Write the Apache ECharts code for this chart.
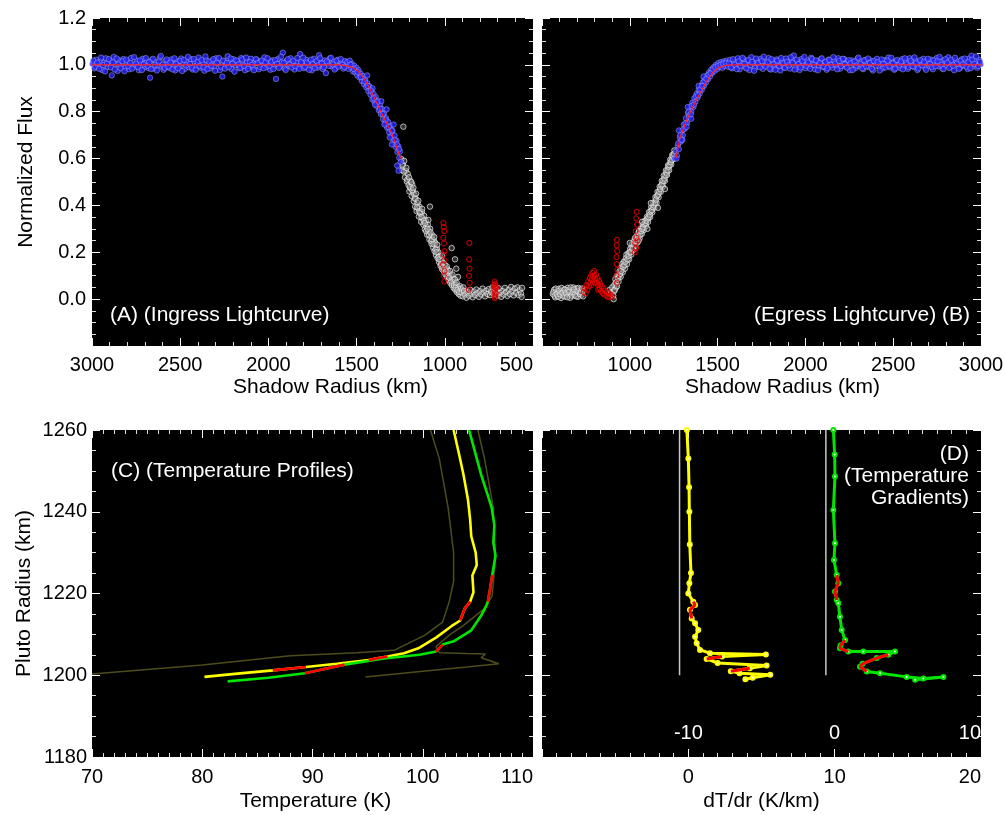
<!DOCTYPE html>
<html>
<head>
<meta charset="utf-8">
<script src="https://cdn.jsdelivr.net/npm/echarts@6/dist/echarts.min.js"></script>
<style>
  html, body { margin: 0; padding: 0; background: #fff; }
  #chart { width: 1005px; height: 815px; }
</style>
</head>
<body>
<div id="chart"></div>
<script>
// ---- axis ticks -------------------------------------------------------
const shadowTicks = [500, 1000, 1500, 2000, 2500, 3000];          // km
const fluxTicks = [-0.2, 0.0, 0.2, 0.4, 0.6, 0.8, 1.0, 1.2];
const tempTicks = [70, 80, 90, 100, 110];                          // K
const plutoTicks = [1180, 1200, 1220, 1240, 1260];                 // km
const gradTicks = [-10, 0, 10, 20];                                // K/km (yellow)
const gradInnerTicks = [-20, -10, 0, 10];                          // K/km (green)

// ---- (A) ingress light curve: [shadow radius km, normalized flux] ----
const ingressBlue = [
  [2998,1.004],[2987,0.985],[2976,1.022],[2965,0.996],[2954,1.013],[2943,0.978],[2932,1.009],[2921,1.028],[2910,0.991],[2899,1.016],
  [2888,0.955],[2877,1.034],[2866,1.003],[2855,0.974],[2844,1.019],[2833,0.997],[2822,1.025],[2811,0.988],[2800,1.012],[2789,0.981],
  [2778,1.029],[2767,1.001],[2756,0.993],[2745,1.018],[2734,0.977],[2723,1.008],[2712,1.026],[2701,0.990],[2690,1.014],[2679,0.986],
  [2671,0.945],[2660,1.021],[2649,0.984],[2638,1.011],[2627,0.998],[2616,1.030],[2605,0.992],[2594,0.979],[2583,1.017],[2572,1.004],
  [2561,0.987],[2550,1.023],[2539,1.000],[2528,0.976],[2517,1.015],[2506,0.994],[2495,1.027],[2484,1.006],[2473,0.983],[2462,1.011],
  [2451,0.990],[2440,1.024],[2429,0.980],[2418,1.013],[2407,0.997],[2396,1.031],[2385,0.988],[2374,1.009],[2363,0.975],[2352,1.020],
  [2341,1.002],[2330,0.985],[2319,1.018],[2308,0.993],[2297,1.028],[2286,1.005],[2275,0.978],[2261,0.950],[2252,1.016],[2241,0.996],
  [2231,1.037],[2220,1.010],[2209,0.982],[2198,1.024],[2187,0.999],[2176,1.015],[2165,0.986],[2154,1.029],[2143,1.003],[2132,0.977],
  [2121,1.012],[2110,0.994],[2099,1.026],[2088,0.989],[2077,1.008],[2066,1.021],[2055,0.981],[2044,1.014],[2033,0.998],[2022,1.032],
  [2011,0.990],[2000,1.006],[1989,0.979],[1978,1.019],[1967,1.001],[1957,0.940],[1946,1.025],[1935,0.992],[1924,1.011],[1918,1.052],
  [1907,0.984],[1896,1.017],[1885,0.996],[1874,1.028],[1863,1.004],[1852,0.980],[1841,1.013],[1830,0.991],[1820,1.046],[1809,1.007],
  [1798,0.986],[1787,1.022],[1776,0.999],[1765,1.014],[1754,0.977],[1743,1.026],[1732,1.003],[1721,0.988],[1713,1.041],[1702,1.010],
  [1691,0.982],[1680,1.019],[1674,0.965],[1663,1.005],[1652,1.027],[1641,0.993],[1630,1.012],[1619,0.985],[1608,1.021],[1597,0.998],
  [1586,1.009],[1575,0.984],[1566,1.016],[1559,0.996],
  [1552,1.012],[1546,0.983],[1539,1.018],[1533,0.991],[1527,1.004],[1520,0.972],[1514,0.996],[1508,0.968],[1501,0.987],[1496,0.955],
  [1489,0.977],[1483,0.946],[1477,0.962],[1470,0.931],[1465,0.952],[1458,0.918],[1452,0.937],[1446,0.905],[1440,0.922],[1433,0.888],
  [1428,0.909],[1421,0.872],[1416,0.893],[1410,0.852],[1404,0.876],[1398,0.842],[1392,0.863],[1386,0.825],[1380,0.846],[1374,0.806],
  [1368,0.830],[1362,0.790],[1357,0.812],[1350,0.768],[1345,0.792],[1338,0.750],[1333,0.772],[1327,0.732],[1321,0.756],[1315,0.712],
  [1309,0.738],[1303,0.695],[1297,0.718],[1291,0.672],[1285,0.698],[1279,0.650],[1274,0.676],[1268,0.628],[1263,0.652],[1258,0.604],
  [1254,0.630],[1250,0.585],[1270,0.570],[1262,0.548],[1290,0.745],[1300,0.660],[1330,0.810],[1360,0.845],[1410,0.900],[1440,0.955]
];
const ingressBlueB = [
  [2993,1.018],[2982,0.992],[2970,1.009],[2959,0.983],[2948,1.031],[2937,0.999],[2926,0.972],[2915,1.006],[2904,1.024],[2893,0.989],
  [2882,1.011],[2871,0.980],[2860,1.027],[2849,1.002],[2838,0.986],[2827,1.015],[2816,0.973],[2805,1.022],[2794,0.995],[2783,1.008],
  [2772,0.984],[2761,1.033],[2750,1.005],[2739,0.991],[2728,1.019],[2717,0.978],[2706,1.002],[2695,1.029],[2684,0.996],[2675,1.012],
  [2665,0.982],[2654,1.026],[2643,0.999],[2632,0.976],[2621,1.014],[2610,1.038],[2599,1.001],[2588,0.987],[2577,1.023],[2566,0.993],
  [2555,1.010],[2544,0.981],[2533,1.028],[2522,1.003],[2511,0.985],[2500,1.017],[2489,0.974],[2478,1.021],[2467,0.998],[2456,1.034],
  [2445,1.004],[2434,0.988],[2423,1.025],[2412,0.979],[2401,1.012],[2390,0.995],[2379,1.020],[2368,0.990],[2357,1.036],[2346,0.982],
  [2335,1.013],[2324,0.997],[2313,1.024],[2302,0.975],[2291,1.010],[2280,1.029],[2269,0.992],[2256,1.018],[2246,0.984],[2236,1.008],
  [2225,0.990],[2214,1.027],[2203,1.005],[2192,0.971],[2181,1.019],[2170,1.001],[2159,0.988],[2148,1.023],[2137,0.996],[2126,1.031],
  [2115,0.983],[2104,1.012],[2093,1.000],[2082,0.977],[2071,1.025],[2060,1.007],[2049,0.991],[2038,1.018],[2027,0.986],[2016,1.011],
  [2005,1.028],[1994,0.995],[1983,1.013],[1972,0.982],[1962,1.020],[1951,1.004],[1940,0.987],[1929,1.035],[1913,1.008],[1902,0.978],
  [1891,1.024],[1880,1.001],[1869,0.989],[1858,1.017],[1847,0.995],[1836,1.029],[1825,0.983],[1814,1.012],[1803,1.031],[1792,0.992],
  [1781,1.009],[1770,0.979],[1759,1.022],[1748,1.003],[1737,0.987],[1726,1.016],[1716,0.998],[1707,1.028],[1696,1.006],[1685,0.990],
  [1669,1.014],[1657,0.996],[1646,1.030],[1635,1.002],[1624,0.980],[1613,1.018],[1602,0.993],[1591,1.025],[1580,1.000],[1570,0.991],
  [1535,1.000],[1515,0.982],[1495,0.970],[1475,0.948],[1455,0.930],[1437,0.910],[1420,0.890],[1402,0.858],[1385,0.840],[1367,0.812],
  [1352,0.790],[1336,0.765],[1318,0.735],[1300,0.720],[1284,0.680],[1272,0.660],[1260,0.640],[1395,0.830],[1342,0.745],[1312,0.690]
];
const ingressWhite = [
  [1235,0.736],[1246,0.598],[1238,0.575],[1242,0.550],[1230,0.590],[1226,0.520],[1221,0.548],[1215,0.502],[1210,0.535],[1205,0.486],
  [1201,0.460],[1196,0.505],[1192,0.472],[1188,0.440],[1185,0.490],[1180,0.455],[1176,0.418],[1172,0.445],[1168,0.395],[1165,0.428],
  [1160,0.376],[1155,0.410],[1151,0.388],[1147,0.352],[1143,0.394],[1138,0.365],[1134,0.330],[1130,0.372],[1126,0.345],[1121,0.318],
  [1117,0.356],[1113,0.298],[1108,0.335],[1104,0.310],[1100,0.275],[1096,0.318],[1091,0.290],[1087,0.255],[1083,0.300],[1079,0.268],
  [1075,0.236],[1070,0.272],[1066,0.220],[1062,0.250],[1058,0.205],[1054,0.240],[1050,0.188],[1045,0.215],[1041,0.175],[1037,0.200],
  [1032,0.158],[1028,0.182],[1024,0.142],[1019,0.166],[1015,0.128],[1010,0.155],[1005,0.118],[1000,0.145],[996,0.105],[992,0.132],
  [987,0.095],[983,0.125],[978,0.082],[974,0.110],[969,0.070],[964,0.098],[960,0.060],[955,0.085],[950,0.048],[946,0.072],
  [941,0.040],[936,0.060],[931,0.030],[926,0.052],[921,0.022],[916,0.044],[911,0.015],[1084,0.395],[961,0.218],[942,0.170],
  [935,0.130],[925,0.095],
  [1240,0.570],[1232,0.545],[1218,0.560],[1212,0.510],[1203,0.520],[1198,0.478],[1190,0.500],[1183,0.465],[1178,0.475],[1170,0.430],
  [1163,0.450],[1157,0.392],[1150,0.420],[1145,0.375],[1140,0.370],[1132,0.350],[1128,0.385],[1119,0.335],[1112,0.325],[1106,0.290],
  [1098,0.300],[1093,0.338],[1089,0.275],[1081,0.285],[1077,0.248],[1072,0.255],[1064,0.235],[1060,0.265],[1052,0.212],[1047,0.200],
  [1043,0.232],[1035,0.180],[1030,0.170],[1021,0.150],[1017,0.185],[1012,0.135],[1002,0.130],[994,0.118],[989,0.140],[980,0.100],
  [976,0.092],[970,0.120],[962,0.075],[957,0.105],[948,0.060],[944,0.085],[938,0.050],[933,0.070],[928,0.040],[918,0.030],
  [913,0.055],[908,0.045],[902,0.040],[895,0.050],[888,0.025],
  [905,0.028],[898,0.012],[891,0.035],[884,0.020],[877,0.006],[870,0.030],[863,0.015],[856,0.040],[849,0.022],[842,0.008],
  [835,0.032],[828,0.018],[821,0.041],[814,0.025],[807,0.010],[800,0.034],[793,0.020],[786,0.045],[779,0.028],[772,0.012],
  [765,0.036],[758,0.022],[751,0.043],[744,0.017],[737,0.030],[730,0.050],[723,0.024],[708,0.038],[701,0.015],[694,0.046],
  [687,0.027],[680,0.010],[673,0.035],[666,0.020],[659,0.048],[652,0.030],[645,0.014],[638,0.040],[631,0.022],[624,0.052],
  [617,0.033],[610,0.016],[603,0.045],[596,0.027],[589,0.050],[582,0.018],[575,0.038],[568,0.024],[562,0.048],[565,0.010]
];
const ingressRed = [
  [1008,0.325],[1006,0.308],[1003,0.290],[1009,0.262],[1005,0.238],[1002,0.205],[1007,0.190],[1004,0.165],[1010,0.148],[1001,0.120],
  [1006,0.100],[1003,0.075],
  [861,0.240],[862,0.170],[860,0.130],[863,0.100],[859,0.070],[864,0.040],
  [718,0.075],[714,0.065],[716,0.055],[712,0.048],[719,0.040],[715,0.032],[711,0.025],[717,0.018],[713,0.010],[716,0.004],
  [720,0.060],[710,0.050]
];
const ingressFit = [
  [3000,1.0],[1600,1.0],[1560,0.997],[1520,0.988],[1490,0.972],[1462,0.945],[1430,0.905],[1405,0.867],[1375,0.820],
  [1349,0.779],[1325,0.745],[1301,0.708],[1280,0.665],[1264,0.628],[1250,0.600]
];

// ---- (B) egress light curve ---------------------------------------------
const egressBlue = [
  [1256,0.600],[1262,0.630],[1268,0.612],[1273,0.655],[1279,0.640],[1285,0.690],[1290,0.672],[1296,0.718],[1302,0.700],[1308,0.745],
  [1314,0.728],[1320,0.772],[1326,0.752],[1332,0.795],[1338,0.778],[1344,0.815],[1350,0.800],[1356,0.838],[1362,0.820],[1368,0.858],
  [1374,0.842],[1380,0.876],[1386,0.860],[1392,0.893],[1398,0.878],[1404,0.910],[1410,0.894],[1416,0.925],[1422,0.910],[1428,0.940],
  [1434,0.925],[1440,0.955],[1446,0.940],[1452,0.968],[1458,0.952],[1464,0.980],[1470,0.966],[1477,0.990],[1484,0.975],[1491,1.000],
  [1498,0.982],[1505,1.008],[1512,0.990],[1520,1.012],[1528,0.988],[1536,1.015],[1544,0.995],[1552,1.018],[1280,0.720],[1300,0.680],
  [1330,0.820],[1350,0.770],[1392,0.910],[1420,0.950],
  [1560,0.992],[1571,1.021],[1582,0.985],[1593,1.012],[1604,0.997],[1615,1.028],[1626,0.981],[1637,1.009],[1648,1.024],[1659,0.990],
  [1670,1.015],[1681,0.978],[1692,1.033],[1703,1.004],[1714,0.987],[1725,1.019],[1736,0.995],[1747,1.026],[1758,0.983],[1769,1.011],
  [1780,0.998],[1791,1.029],[1802,0.980],[1813,1.014],[1824,0.993],[1835,1.023],[1846,1.001],[1857,0.976],[1868,1.017],[1879,0.989],
  [1890,1.027],[1901,1.005],[1912,0.984],[1923,1.020],[1934,1.040],[1945,0.992],[1956,1.012],[1967,0.978],[1978,1.025],[1989,1.000],
  [2000,0.986],[2011,1.018],[2022,0.994],[2033,1.030],[2044,1.007],[2055,0.981],[2066,1.015],[2077,0.997],[2088,1.024],[2099,0.990],
  [2110,1.011],[2121,0.979],[2132,1.022],[2143,1.003],[2154,0.988],[2165,1.016],[2176,0.996],[2187,1.028],[2198,0.984],[2209,1.009],
  [2220,1.025],[2231,0.992],[2242,1.013],[2253,0.977],[2264,1.019],[2275,1.001],[2286,0.987],[2297,1.027],[2308,0.995],[2319,1.014],
  [2330,0.982],[2341,1.021],[2352,1.004],[2363,0.990],[2374,1.018],[2385,0.976],[2396,1.010],[2407,1.026],[2418,0.993],[2429,1.008],
  [2440,0.985],[2451,1.020],[2462,0.998],[2473,1.031],[2484,0.989],[2495,1.012],[2506,0.979],[2517,1.016],[2528,1.002],[2539,0.987],
  [2550,1.024],[2561,0.996],[2572,1.013],[2583,0.983],[2594,1.028],[2605,1.005],[2616,0.991],[2627,1.017],[2638,0.978],[2649,1.011],
  [2660,1.000],[2671,1.026],[2682,0.988],[2693,1.014],[2704,0.995],[2715,1.022],[2726,0.981],[2737,1.008],[2748,1.029],[2759,0.993],
  [2770,1.015],[2781,0.984],[2792,1.020],[2803,0.999],[2814,1.032],[2825,0.990],[2836,1.011],[2847,0.977],[2858,1.018],[2869,1.003],
  [2880,0.986],[2891,1.024],[2902,0.997],[2913,1.013],[2924,0.982],[2935,1.027],[2946,1.039],[2957,0.994],[2968,1.016],[2979,0.988],
  [2990,1.021],[2998,1.002]
];
const egressBlueB = [
  [1265,0.600],[1276,0.665],[1288,0.700],[1294,0.680],[1305,0.725],[1317,0.750],[1323,0.735],[1335,0.800],[1347,0.790],[1353,0.825],
  [1365,0.830],[1377,0.865],[1389,0.870],[1401,0.895],[1413,0.910],[1425,0.930],[1437,0.940],[1449,0.958],[1461,0.965],[1473,0.980],
  [1487,0.990],[1502,0.995],[1517,1.000],[1532,1.005],[1547,1.008],
  [1565,1.006],[1576,0.989],[1587,1.024],[1598,1.001],[1609,0.982],[1620,1.015],[1631,0.996],[1642,1.030],[1653,1.004],[1664,0.985],
  [1675,1.021],[1686,0.999],[1697,1.012],[1708,0.975],[1719,1.027],[1730,1.008],[1741,0.990],[1752,1.016],[1763,1.035],[1774,0.993],
  [1785,1.011],[1796,0.984],[1807,1.024],[1818,1.002],[1829,0.979],[1840,1.018],[1851,0.995],[1862,1.029],[1873,1.006],[1884,0.987],
  [1895,1.013],[1906,0.998],[1917,1.032],[1928,1.009],[1939,0.980],[1950,1.022],[1961,1.003],[1972,0.989],[1983,1.016],[1994,1.034],
  [2005,0.996],[2016,1.010],[2027,0.983],[2038,1.025],[2049,1.000],[2060,1.019],[2071,0.977],[2082,1.008],[2093,1.028],[2104,0.994],
  [2115,1.013],[2126,0.986],[2137,1.021],[2148,0.999],[2159,1.033],[2170,1.005],[2181,0.981],[2192,1.017],[2203,0.995],[2214,1.026],
  [2225,1.002],[2236,0.988],[2247,1.020],[2258,1.007],[2269,0.978],[2280,1.014],[2291,0.997],[2302,1.031],[2313,1.003],[2324,0.985],
  [2335,1.019],[2346,0.994],[2357,1.027],[2368,1.008],[2379,0.983],[2390,1.016],[2401,0.998],[2412,1.012],[2423,0.976],[2434,1.023],
  [2445,1.004],[2456,0.989],[2467,1.018],[2478,0.996],[2489,1.030],[2500,1.006],[2511,0.984],[2522,1.021],[2533,0.999],[2544,1.014],
  [2555,0.981],[2566,1.028],[2577,1.002],[2588,0.991],[2599,1.017],[2610,0.995],[2621,1.032],[2632,1.007],[2643,0.985],[2654,1.020],
  [2665,0.998],[2676,1.013],[2687,0.979],[2698,1.026],[2709,1.004],[2720,0.990],[2731,1.019],[2742,0.994],[2753,1.015],[2764,1.034],
  [2775,1.000],[2786,0.982],[2797,1.024],[2808,1.009],[2819,0.987],[2830,1.021],[2841,0.997],[2852,1.030],[2863,1.005],[2874,0.983],
  [2885,1.017],[2896,1.001],[2907,1.027],[2918,0.992],[2929,1.012],[2940,0.986],[2951,1.022],[2962,1.004],[2973,1.036],[2984,0.995],
  [2995,1.013]
];
const egressWhite = [
  [562,0.022],[569,0.040],[575,0.008],[582,0.030],[588,0.015],[595,0.044],[601,0.026],[608,0.005],[614,0.035],[621,0.018],
  [627,0.042],[634,0.012],[640,0.030],[647,0.048],[653,0.020],[660,0.006],[666,0.038],[673,0.024],[679,0.050],[686,0.015],
  [692,0.032],[699,0.045],[705,0.010],[712,0.028],[718,0.040],[725,0.018],[731,0.035],
  [565,0.030],[572,0.015],[578,0.045],[585,0.022],[592,0.010],[598,0.036],[605,0.020],[611,0.048],[618,0.028],[624,0.012],
  [630,0.040],[637,0.025],[643,0.008],[650,0.038],[656,0.032],[663,0.050],[669,0.015],[676,0.030],[682,0.042],[689,0.020],
  [695,0.012],[702,0.035],[708,0.048],[715,0.022],[721,0.030],[728,0.045],[734,0.012],
  [885,0.040],[893,0.025],[900,0.050],[906,0.015],[912,0.035],[908,0.000],
  [912,0.060],[918,0.085],[922,0.050],[930,0.100],[936,0.075],[942,0.120],[948,0.095],[954,0.139],[960,0.115],[966,0.160],
  [972,0.130],[978,0.175],[984,0.150],[990,0.195],[996,0.170],[1002,0.215],[1008,0.190],[1014,0.235],[1020,0.210],[1026,0.250],
  [1032,0.228],[1038,0.268],[1044,0.242],[1050,0.285],[1056,0.260],[1062,0.300],[1068,0.278],[1074,0.318],[1080,0.295],[1086,0.335],
  [1092,0.312],[1098,0.352],[1104,0.330],[1110,0.372],[1116,0.350],[1122,0.392],[1128,0.370],[1134,0.412],[1140,0.390],[1146,0.435],
  [1152,0.410],[1158,0.458],[1164,0.435],[1170,0.480],[1176,0.458],[1182,0.505],[1188,0.480],[1194,0.528],[1200,0.505],[1206,0.550],
  [1212,0.530],[1218,0.572],[1224,0.550],[1230,0.595],[1236,0.575],[1242,0.615],[1248,0.598],[1254,0.635],
  [914,0.040],[920,0.070],[927,0.055],[933,0.090],[939,0.100],[945,0.108],[951,0.120],[957,0.150],[963,0.138],[969,0.145],
  [975,0.160],[981,0.190],[987,0.170],[993,0.185],[999,0.200],[1005,0.200],[1011,0.220],[1017,0.215],[1023,0.236],[1029,0.260],
  [1035,0.248],[1041,0.255],[1047,0.270],[1053,0.290],[1059,0.276],[1065,0.290],[1071,0.300],[1077,0.306],[1083,0.320],[1089,0.325],
  [1095,0.335],[1101,0.345],[1107,0.350],[1113,0.360],[1119,0.375],[1125,0.380],[1131,0.392],[1137,0.400],[1143,0.410],[1149,0.425],
  [1155,0.440],[1161,0.446],[1167,0.458],[1173,0.470],[1179,0.485],[1185,0.490],[1191,0.505],[1197,0.515],[1203,0.528],[1209,0.540],
  [1215,0.550],[1221,0.565],[1227,0.572],[1233,0.585],[1239,0.595],[1245,0.610],[1251,0.620],[1160,0.390],[1120,0.410],[1070,0.330],
  [1000,0.240],[1050,0.250],[1100,0.300],[1200,0.470]
];
const egressRed = [
  [737,0.030],[742,0.045],[748,0.025],[753,0.060],[758,0.040],[763,0.075],[768,0.055],[772,0.090],[776,0.070],[780,0.100],
  [784,0.085],[788,0.112],[792,0.095],[796,0.120],[800,0.100],[804,0.085],[808,0.105],[812,0.070],[816,0.090],[820,0.060],
  [824,0.078],[828,0.045],[832,0.065],[836,0.035],[840,0.055],[845,0.025],[850,0.045],[855,0.020],[860,0.035],[865,0.015],
  [870,0.030],[875,0.010],[880,0.025],[886,0.008],[892,0.020],[898,0.012],[780,0.060],[800,0.070],[820,0.040],
  [927,0.253],[925,0.230],[928,0.205],[924,0.180],[926,0.150],[929,0.125],[923,0.100],[927,0.070],
  [1039,0.373],[1036,0.345],[1041,0.318],[1034,0.290],[1038,0.262],[1031,0.240],[1036,0.220],[1028,0.200],[1044,0.250],[1033,0.215]
];
const egressFit = [
  [1262,0.600],[1286,0.690],[1324,0.765],[1362,0.825],[1400,0.880],[1438,0.930],[1470,0.965],[1500,0.985],[1540,0.997],
  [1580,1.0],[3000,1.0]
];

// ---- (C) temperature profiles: [temperature K, Pluto radius km] ----
const tempYellow = [
  [102.8,1260],[103.3,1254],[103.7,1249],[104.1,1243],[104.3,1238],[104.4,1234],[104.8,1230],[104.9,1227],[104.5,1224.4],[104.6,1220.3],
  [104.3,1218],[103.8,1216.3],[103.4,1213.4],[102.6,1212],[101.2,1209.2],[99.6,1206.6],[98.3,1205.4],[96.8,1204.6],[96.0,1204.2],[95.1,1203.7],
  [92.2,1202.8],[89.4,1202.0],[86.4,1201.2],[83.2,1200.4],[80.2,1199.6]
];
const tempYellowRed = [[10, 12], [17, 19], [21, 22]];
const tempGreen = [
  [104.2,1260],[104.7,1255],[105.3,1249],[105.9,1244],[106.25,1241],[106.5,1236.6],[106.4,1232.5],[106.6,1229.3],[106.3,1224.5],[106.1,1221],
  [105.9,1218],[105.8,1217.2],[105.3,1214.6],[104.4,1211],[102.8,1208.3],[101.8,1207.5],[101.2,1205.8],[99.7,1205.0],[96.5,1204.1],[92.9,1202.6],
  [89.3,1200.5],[86.0,1199.4],[82.3,1198.5]
];
const tempGreenRed = [[8, 10], [15, 16], [19, 20]];
const tempEnvLow = [
  [100.7,1260],[101.5,1253],[102.3,1241],[102.8,1230],[102.8,1223],[102.4,1218],[101.8,1213],[100.2,1209.8],[97.4,1206.1],[94.0,1205.5],
  [88.0,1204.8],[85.6,1204.1],[80.0,1202.5],[70.0,1200.3]
];
const tempEnvHigh = [
  [105.0,1260],[105.6,1253],[106.4,1241],[106.6,1228.5],[106.3,1219.5],[105.6,1216.3],[103.7,1212.2],[102.4,1209.8],[101.2,1207],[101.5,1205.5],
  [104.0,1205.3],[105.7,1205.2],[105.3,1204.3],[106.9,1202.8],[104.0,1202.0],[100.0,1201.0],[94.8,1199.6]
];

// ---- (D) temperature gradients: [dT/dr K/km, Pluto radius km] ----
const gradYellow = [
  [-0.1,1260],[0.0,1253],[0.05,1246],[0.07,1240],[0.1,1232],[0.18,1225],[0.07,1222.5],[0.0,1220],[0.34,1218],[0.46,1217.2],
  [0.11,1216],[0.23,1213.9],[0.46,1212.7],[0.68,1211.1],[0.46,1209.4],[0.57,1207.8],[0.8,1206.2],[1.48,1205.4],[5.3,1205.1],[2.3,1204.6],
  [1.25,1204.0],[2.0,1203.0],[5.35,1202.4],[4.2,1201.7],[2.9,1201.0],[3.5,1200.5],[5.6,1200.1],[4.4,1199.4],[3.9,1199.0]
];
const gradYellowRed = [[8, 11], [19, 20], [23, 24]];
const gradGreen = [
  [-0.09,1260],[0.0,1254],[0.02,1248.6],[-0.09,1240.4],[0.02,1232.3],[-0.05,1228.2],[0.14,1224.5],[0.25,1222.5],[0.02,1220.5],[0.14,1218.4],
  [0.25,1217.6],[0.36,1214.3],[0.48,1211.1],[0.71,1208.6],[0.4,1207.3],[0.36,1206.6],[0.93,1205.8],[1.96,1205.8],[4.12,1205.8],[3.67,1205.0],
  [2.87,1204.2],[1.9,1202.8],[1.73,1202.1],[2.19,1200.9],[3.1,1200.5],[4.92,1199.6],[6.06,1199.2],[7.43,1199.6],[5.5,1198.9]
];
const gradGreenRed = [[6, 9], [13, 16], [19, 23]];
const adiabatLapse = [[-0.6, 1200], [-0.6, 1260]];   // dry adiabatic reference

// ---- styling -------------------------------------------------------------
const FONT = '"Liberation Sans", Arial, Helvetica, sans-serif';
const grids = [
  { left: 92,  top: 18,  width: 441, height: 328 },
  { left: 542, top: 18,  width: 439, height: 328 },
  { left: 92,  top: 430, width: 441, height: 327 },
  { left: 542, top: 430, width: 439, height: 327 }
].map(g => Object.assign({ show: true, backgroundColor: '#000', borderWidth: 0, containLabel: false, outerBoundsMode: 'none' }, g));

function axis(kind, gridIndex, position, ticks, minorSplit, label, extra) {
  const a = {
    type: 'value', gridIndex, position,
    min: ticks[0], max: ticks[ticks.length - 1], interval: ticks[1] - ticks[0],
    axisLine: { show: false, onZero: false },
    axisTick: { show: true, inside: true, length: 8, lineStyle: { color: '#fff', width: 1 } },
    minorTick: { show: true, splitNumber: minorSplit, length: 4, lineStyle: { color: '#ddd', width: 1 } },
    splitLine: { show: false }, minorSplitLine: { show: false },
    axisLabel: Object.assign({ show: !!label, color: '#000', fontSize: 20, fontFamily: FONT,
      margin: kind === 'x' ? 9 : 6, formatter: v => String(v) }, label || {})
  };
  return Object.assign(a, extra || {});
}
const nameStyle = (pad) => ({ fontSize: 21, color: '#000', fontFamily: FONT, padding: pad || 0 });

const xAxes = [
  axis('x', 0, 'bottom', shadowTicks, 5, { alignMinLabel: 'right' },
       { inverse: true, name: 'Shadow Radius (km)', nameLocation: 'middle', nameGap: 31, nameTextStyle: nameStyle([0, 0, 0, 36]) }),
  axis('x', 0, 'top', shadowTicks, 5, null, { inverse: true }),
  axis('x', 1, 'bottom', shadowTicks, 5, { formatter: v => (v === shadowTicks[0] ? '' : String(v)) },
       { name: 'Shadow Radius (km)', nameLocation: 'middle', nameGap: 31, nameTextStyle: nameStyle([0, 0, 0, 42]) }),
  axis('x', 1, 'top', shadowTicks, 5, null),
  axis('x', 2, 'bottom', tempTicks, 10, { alignMaxLabel: 'right', margin: 10 },
       { name: 'Temperature (K)', nameLocation: 'middle', nameGap: 34, nameTextStyle: nameStyle([0, 0, 0, 6]) }),
  axis('x', 2, 'top', tempTicks, 10, null),
  axis('x', 3, 'bottom', gradTicks, 10, { alignMaxLabel: 'right', margin: 10,
       formatter: v => (v === gradTicks[0] ? '' : String(v)) },
       { name: 'dT/dr (K/km)', nameLocation: 'middle', nameGap: 34, nameTextStyle: nameStyle() }),
  axis('x', 3, 'top', gradTicks, 10, null),
  // second scale for the green gradient, labelled inside the frame
  axis('x', 3, 'bottom', gradInnerTicks, 10, { inside: true, color: '#fff', margin: 14, alignMaxLabel: 'right',
       formatter: v => (v === gradInnerTicks[0] ? '' : String(v)) },
       { axisTick: { show: false }, minorTick: { show: false } })
];
const yAxes = [
  axis('y', 0, 'left', fluxTicks, 4, { formatter: v => (Math.abs(v - fluxTicks[0]) < 1e-9 ? '' : v.toFixed(1)) },
       { name: 'Normalized Flux', nameLocation: 'middle', nameGap: 55, nameTextStyle: nameStyle([0, 0, 0, 20]) }),
  axis('y', 0, 'right', fluxTicks, 4, null),
  axis('y', 1, 'left', fluxTicks, 4, null),
  axis('y', 1, 'right', fluxTicks, 4, null),
  axis('y', 2, 'left', plutoTicks, 4, { margin: 5 },
       { name: 'Pluto Radius (km)', nameLocation: 'middle', nameGap: 57, nameTextStyle: nameStyle() }),
  axis('y', 2, 'right', plutoTicks, 4, null),
  axis('y', 3, 'left', plutoTicks, 4, null),
  axis('y', 3, 'right', plutoTicks, 4, null)
];

const blueStyle = { color: '#2424f4', borderColor: 'rgba(190,190,255,0.75)', borderWidth: 0.7 };
const whiteStyle = { color: 'rgba(110,110,110,0.55)', borderColor: '#ececec', borderWidth: 0.9 };
const redStyle = { color: 'rgba(0,0,0,0)', borderColor: '#e80000', borderWidth: 1.1 };

function scatter(data, xi, yi, style, size) {
  return { type: 'scatter', data, xAxisIndex: xi, yAxisIndex: yi, symbol: 'circle',
           symbolSize: size || 5.5, itemStyle: style, silent: true };
}
function line(data, xi, yi, color, width, z, extra) {
  return Object.assign({ type: 'line', data, xAxisIndex: xi, yAxisIndex: yi, showSymbol: false, symbol: 'none',
           lineStyle: { color, width }, z: z || 3, silent: true }, extra || {});
}
function redParts(curve, ranges, xi, yi, width, extra) {
  return ranges.map(r => line(curve.slice(r[0], r[1] + 1), xi, yi, '#ff0000', width, 5, extra));
}

const gradLineExtra = { showSymbol: true, symbol: 'emptyCircle', symbolSize: 4 };

const series = [
  // (A)
  scatter(ingressWhite, 0, 0, whiteStyle),
  scatter(ingressRed, 0, 0, redStyle, 5),
  scatter(ingressBlue.concat(ingressBlueB), 0, 0, blueStyle),
  line(ingressFit, 0, 0, '#ff2020', 1.2, 6),
  // (B)
  scatter(egressWhite, 2, 2, whiteStyle),
  scatter(egressRed, 2, 2, redStyle, 5),
  scatter(egressBlue.concat(egressBlueB), 2, 2, blueStyle),
  line(egressFit, 2, 2, '#ff2020', 1.2, 6),
  // (C)
  line(tempEnvLow, 4, 4, '#4d4d1c', 1.5, 2),
  line(tempEnvHigh, 4, 4, '#4d4d1c', 1.5, 2),
  line(tempYellow, 4, 4, '#ffff00', 2.6, 4),
  line(tempGreen, 4, 4, '#00e600', 2.6, 4),
  ...redParts(tempYellow, tempYellowRed, 4, 4, 2.6),
  ...redParts(tempGreen, tempGreenRed, 4, 4, 2.6),
  // (D)
  line(adiabatLapse, 6, 6, '#c8c8c8', 1.5, 2),
  line(adiabatLapse, 8, 6, '#c8c8c8', 1.5, 2),
  line(gradYellow, 6, 6, '#ffff00', 3, 4, Object.assign({ itemStyle: { color: '#ffff00' } }, gradLineExtra)),
  line(gradGreen, 8, 6, '#00e600', 3, 4, Object.assign({ itemStyle: { color: '#00e600' } }, gradLineExtra)),
  ...redParts(gradYellow, gradYellowRed, 6, 6, 3),
  ...redParts(gradGreen, gradGreenRed, 8, 6, 3)
];

const panelText = (text, x, y, align) => ({
  type: 'text', silent: true, z: 100,
  style: { text, x, y, fill: '#fff', fontSize: 21, fontFamily: FONT, textAlign: align || 'left',
           textVerticalAlign: 'middle', lineHeight: 22 }
});

const chart = echarts.init(document.getElementById('chart'), null, { renderer: 'canvas' });
chart.setOption({
  animation: false,
  backgroundColor: '#fff',
  grid: grids,
  xAxis: xAxes,
  yAxis: yAxes,
  series,
  graphic: [
    panelText('(A) (Ingress Lightcurve)', 110, 315),
    panelText('(Egress Lightcurve) (B)', 970, 315, 'right'),
    panelText('(C) (Temperature Profiles)', 111, 471),
    panelText('(D)\n(Temperature\nGradients)', 969, 476, 'right')
  ]
});
</script>
</body>
</html>
